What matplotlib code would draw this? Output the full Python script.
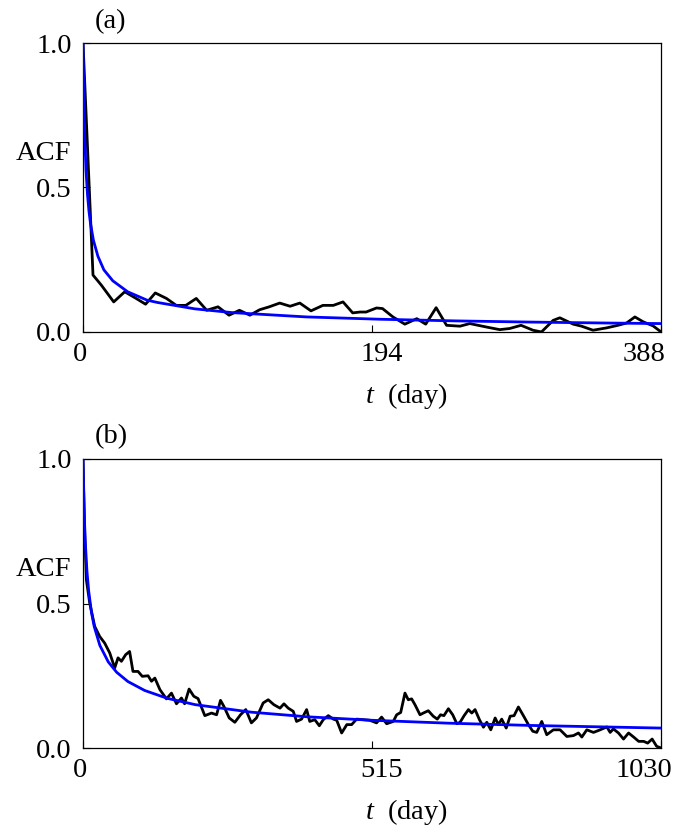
import matplotlib
matplotlib.use('Agg')
import matplotlib.pyplot as plt
import matplotlib.transforms as mtransforms

# panel (a): ACF over 0..388 days
t_a = [0, 6.7, 12.3, 20.6, 28, 35, 42, 48.5, 56, 62.6, 69, 76, 83, 90.6, 98, 105,
       112, 118.6, 125, 132, 139, 145.5, 153, 161, 168, 174.5, 181, 186, 190, 197,
       201, 208, 216, 224, 230, 237, 244, 253, 259.6, 270.8, 279.7, 286.4, 294, 302,
       307.7, 315.5, 320, 329, 334.6, 342.3, 351.3, 359, 364.8, 370.4, 376, 382.6, 388]
acf_a = [1.0, 0.197, 0.162, 0.104, 0.139, 0.118, 0.096, 0.135, 0.116, 0.092, 0.092, 0.116,
         0.075, 0.087, 0.058, 0.075, 0.058, 0.077, 0.087, 0.100, 0.089, 0.100, 0.073,
         0.092, 0.092, 0.104, 0.066, 0.069, 0.069, 0.083, 0.081, 0.052, 0.027, 0.046,
         0.027, 0.084, 0.023, 0.020, 0.029, 0.017, 0.008, 0.012, 0.023, 0.006, 0.0,
         0.040, 0.049, 0.027, 0.020, 0.006, 0.014, 0.023, 0.031, 0.052, 0.035, 0.021, 0.0]
fit_t_a = [0, 0.5, 1, 2, 3, 4, 5, 7, 10, 14, 20, 30, 43, 50, 75, 100, 150, 200, 250, 300, 350, 388]
fit_a = [1.0, 0.817, 0.70, 0.56, 0.476, 0.418, 0.376, 0.317, 0.262, 0.215, 0.177, 0.139,
         0.11, 0.102, 0.080, 0.067, 0.052, 0.0439, 0.0383, 0.0342, 0.031, 0.029]

# panel (b): ACF over 0..1030 days
t_b = [0, 3, 6, 11.9, 20.8, 29.7, 38.6, 47.6, 56.5, 62.4, 68.4, 76, 83, 89, 98, 105.6,
       115.9, 122, 128, 137, 148.6, 157.6, 166.5, 175.4, 181, 189, 197.4, 205, 217, 229,
       238, 245, 251, 260.5, 270.5, 280.6, 290, 300, 309, 321, 330, 340, 351, 358, 365.6,
       374.6, 380.5, 389.4, 398.4, 404, 413, 421, 428, 437, 446, 452, 460.8, 470, 478.6,
       487.5, 499, 511, 523, 532, 541, 552.8, 558.8, 566, 573.6, 579.5, 585.5, 591.4,
       600.4, 606.3, 615.2, 624, 631.2, 637, 643, 651, 658.7, 666, 671.8, 679, 686.7,
       692.6, 698.5, 706.3, 713.4, 719.4, 726.5, 734.3, 740, 746, 754, 761, 768, 775.7,
       784.6, 793.5, 801.3, 808.4, 817.3, 826.2, 838, 850, 862, 873.8, 882.7, 888.7,
       897.6, 909.5, 921.4, 933.3, 939.2, 945, 954, 963, 972, 981, 990, 999, 1006, 1014,
       1022, 1030]
acf_b = [1.0, 0.744, 0.582, 0.502, 0.421, 0.386, 0.363, 0.329, 0.277, 0.312, 0.300, 0.323,
         0.334, 0.265, 0.265, 0.248, 0.250, 0.231, 0.242, 0.202, 0.170, 0.190, 0.153,
         0.173, 0.153, 0.204, 0.179, 0.171, 0.112, 0.121, 0.115, 0.165, 0.144, 0.104,
         0.089, 0.115, 0.133, 0.087, 0.104, 0.156, 0.167, 0.150, 0.138, 0.153, 0.138,
         0.127, 0.092, 0.100, 0.133, 0.092, 0.098, 0.077, 0.098, 0.112, 0.100, 0.096,
         0.052, 0.081, 0.081, 0.100, 0.098, 0.096, 0.087, 0.107, 0.084, 0.092, 0.115,
         0.123, 0.190, 0.167, 0.170, 0.150, 0.115, 0.121, 0.129, 0.110, 0.100, 0.115,
         0.112, 0.136, 0.115, 0.084, 0.089, 0.112, 0.133, 0.121, 0.133, 0.098, 0.072,
         0.089, 0.063, 0.104, 0.081, 0.100, 0.069, 0.110, 0.112, 0.142, 0.112, 0.081,
         0.058, 0.054, 0.092, 0.046, 0.063, 0.063, 0.040, 0.043, 0.052, 0.038, 0.063,
         0.054, 0.063, 0.073, 0.054, 0.066, 0.052, 0.031, 0.052, 0.038, 0.023, 0.023,
         0.017, 0.031, 0.006, 0.0]
fit_t_b = [0, 1, 2, 4, 7, 10, 15, 20, 30, 45, 60, 80, 110, 150, 200, 300, 400, 515, 650, 800, 1030]
fit_b = [1.0, 0.897, 0.821, 0.714, 0.612, 0.545, 0.470, 0.420, 0.355, 0.298, 0.262, 0.230,
         0.199, 0.172, 0.150, 0.124, 0.108, 0.096, 0.086, 0.078, 0.069]

xticks_a = [0, 194, 388]
xticks_b = [0, 515, 1030]

plt.rcParams['font.family'] = ['Liberation Serif', 'DejaVu Serif']
plt.rcParams['mathtext.fontset'] = 'custom'
plt.rcParams['mathtext.it'] = 'Liberation Serif:italic'
plt.rcParams['mathtext.rm'] = 'Liberation Serif'
plt.rcParams['font.size'] = 20.5

fig = plt.figure(figsize=(6.76, 8.27), dpi=100)
ax_a = fig.add_axes([0.1228, 0.5986, 0.8552, 0.3494])
ax_b = fig.add_axes([0.1228, 0.0955, 0.8552, 0.3495])

panels = [(ax_a, t_a, acf_a, fit_t_a, fit_a, xticks_a, '(a)'),
          (ax_b, t_b, acf_b, fit_t_b, fit_b, xticks_b, '(b)')]

for ax, t, acf, ft, fv, xt, tag in panels:
    ax.plot(t, acf, color='black', linewidth=2.0, zorder=2)
    ax.plot(ft, fv, color='#0000ff', linewidth=2.0, zorder=3)
    ax.set_xlim(xt[0], xt[-1])
    ax.set_ylim(0, 1)
    ax.set_xticks(xt)
    ax.set_xticklabels([str(v) for v in xt])
    ax.set_yticks([0, 0.5, 1.0])
    ax.set_yticklabels(['0.0', '0.5', '1.0'])
    ax.tick_params(direction='in', length=5, width=0.8, top=False, right=False)
    ax.tick_params(axis='x', pad=7)
    ax.tick_params(axis='y', pad=8)
    for sp in ax.spines.values():
        sp.set_linewidth(0.9)
    # shift x tick labels like the original
    shifts = [-3, 10, -17]
    for lab, dx in zip(ax.get_xticklabels(), shifts):
        lab.set_transform(lab.get_transform() +
                          mtransforms.ScaledTranslation(dx / 100, 0, fig.dpi_scale_trans))
    ax.set_xlabel('$t$  (day)')
    ax.xaxis.set_label_coords(0.56, -0.17)

fig.text(71 / 676, 1 - 154 / 827, 'ACF', ha='right', va='center')
fig.text(71 / 676, 1 - 570 / 827, 'ACF', ha='right', va='center')
fig.text(111 / 676, 1 - 22 / 827, '(a)', ha='center', va='center')
fig.text(111 / 676, 1 - 437 / 827, '(b)', ha='center', va='center')

fig.savefig('out.png', dpi=100)
